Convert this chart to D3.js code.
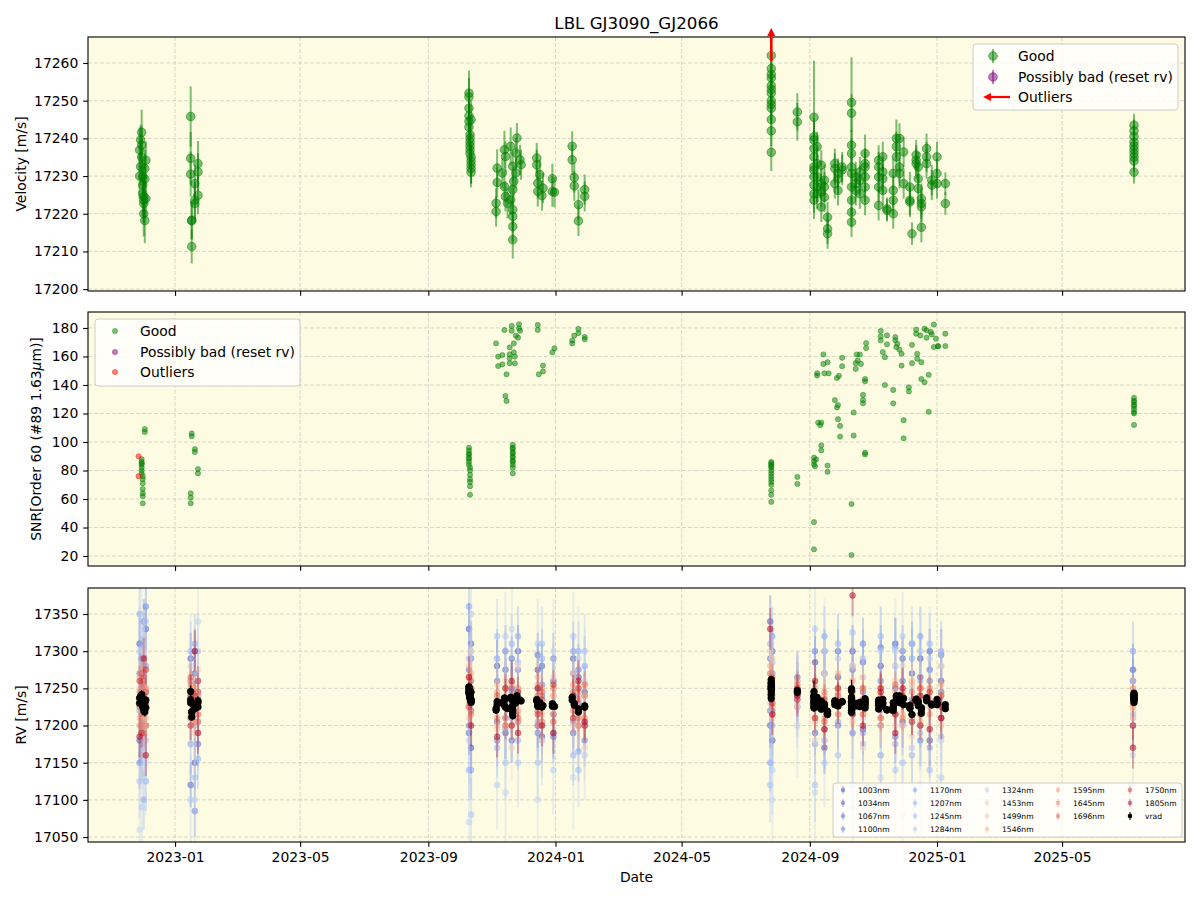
<!DOCTYPE html>
<html>
<head>
<meta charset="utf-8">
<script src="https://cdn.jsdelivr.net/npm/d3@7"></script>
<style>
  body { margin: 0; background: #fff; }
  svg { font-family: "DejaVu Sans", sans-serif; }
</style>
</head>
<body>
<svg id="chart" width="1200" height="900"></svg>
<script>
// ---- data (LBL GJ3090_GJ2066) ----
const dateTicks = ["2023-01-01", "2023-05-01", "2023-09-01", "2024-01-01", "2024-05-01", "2024-09-01", "2025-01-01", "2025-05-01"];
const velTicks = [17200, 17210, 17220, 17230, 17240, 17250, 17260];
const snrTicks = [20, 40, 60, 80, 100, 120, 140, 160, 180];
const rvTicks = [17050, 17100, 17150, 17200, 17250, 17300, 17350];

// velocity per night (m/s) with error bars
const velNightDates = [
  "2022-11-28", "2022-11-29", "2022-11-30", "2022-12-01", "2022-12-02", "2022-12-03", "2022-12-04",
  "2023-01-16", "2023-01-17", "2023-01-20", "2023-01-23",
  "2023-10-10", "2023-10-11", "2023-10-12",
  "2023-11-05", "2023-11-06", "2023-11-11", "2023-11-13", "2023-11-14", "2023-11-16", "2023-11-19",
  "2023-11-21", "2023-11-22", "2023-11-24", "2023-11-25", "2023-11-28", "2023-11-29",
  "2023-12-14", "2023-12-15", "2023-12-17", "2023-12-19", "2023-12-20", "2023-12-29", "2023-12-31",
  "2024-01-17", "2024-01-19", "2024-01-23", "2024-01-29",
  "2024-07-26", "2024-08-20",
  "2024-09-05", "2024-09-08", "2024-09-12", "2024-09-15", "2024-09-18", "2024-09-25", "2024-09-28", "2024-10-02",
  "2024-10-11", "2024-10-15", "2024-10-19", "2024-10-24",
  "2024-11-06", "2024-11-10", "2024-11-14", "2024-11-20", "2024-11-23", "2024-11-26", "2024-11-30",
  "2024-12-06", "2024-12-08", "2024-12-12", "2024-12-14", "2024-12-17", "2024-12-22", "2024-12-27",
  "2025-01-01", "2025-01-09",
  "2025-07-09"
];
const velNightValues = [
  [17236.9, 17230.0], [17232.5, 17239.6], [17241.6, 17238.2, 17235.0], [17229.8, 17227.6, 17225.4],
  [17224.5, 17223.6, 17222.7, 17220.0], [17218.2, 17229.2, 17232.0], [17234.2, 17224.0],
  [17245.8, 17234.7, 17230.5], [17218.3, 17218.1, 17211.3], [17228.0, 17222.7, 17223.6], [17233.3, 17231.1, 17224.9],
  [17252.0, 17251.0, 17248.0, 17246.0, 17244.5, 17243.0], [17241.0, 17240.0, 17239.0, 17238.0, 17237.0, 17236.0],
  [17235.0, 17234.0, 17233.0, 17232.0, 17231.0, 17245.0],
  [17222.8, 17220.6], [17232.1, 17228.3], [17230.8], [17237.0, 17227.2], [17235.2, 17224.6], [17222.8], [17237.9, 17223.7],
  [17232.6, 17226.4, 17221.1, 17219.3, 17216.6, 17213.1], [17228.6], [17236.1, 17230.8], [17240.1], [17234.3], [17233.0],
  [17234.8, 17233.0], [17228.1, 17225.9], [17230.4], [17224.8], [17226.8], [17229.3, 17225.9], [17225.7],
  [17237.9, 17234.3], [17229.6, 17227.4], [17222.4, 17218.1], [17226.4, 17224.6],
  [17262.0, 17258.5, 17257.0, 17256.0, 17254.0, 17253.0, 17252.0, 17250.0, 17249.0, 17248.0, 17245.0, 17242.0, 17236.3],
  [17247.0, 17244.4],
  [17245.6, 17240.4, 17239.6, 17237.3, 17235.1, 17232.4, 17231.6, 17229.8, 17227.6, 17225.3, 17223.6],
  [17237.8, 17233.3, 17229.8, 17227.1, 17225.3], [17232.9, 17228.0, 17225.8, 17221.8], [17228.9, 17227.1, 17224.4],
  [17219.1, 17216.0, 17214.7], [17233.3, 17232.0, 17228.0], [17230.7, 17229.3, 17226.2], [17231.6, 17232.4],
  [17249.5, 17246.7, 17238.2, 17236.0, 17232.4, 17230.7, 17227.1, 17223.6, 17220.4, 17217.8],
  [17229.8, 17228.0, 17226.2], [17231.1, 17228.9, 17225.3], [17236.0, 17233.3, 17232.4, 17229.8, 17227.1, 17223.6],
  [17234.2, 17232.4, 17229.8, 17227.1, 17222.2], [17235.1, 17231.1, 17229.3, 17226.2], [17221.3, 17220.9],
  [17220.0, 17230.7, 17226.2, 17223.6], [17240.0, 17237.8, 17235.1], [17232.4, 17230.7, 17240.0], [17228.0, 17236.4],
  [17227.1, 17223.6, 17223.1], [17214.7], [17235.6, 17234.2, 17233.3], [17232.4, 17229.3, 17226.7],
  [17224.0, 17222.7, 17221.8, 17216.4], [17237.3, 17235.1, 17233.3], [17228.9, 17227.6],
  [17235.1, 17230.7, 17228.0], [17228.0, 17222.7],
  [17243.5, 17242.0, 17240.5, 17239.0, 17238.0, 17237.0, 17236.0, 17235.0, 17234.0, 17231.0]
];
const velNightErrors = [
  [6, 6], [5, 4], [6, 5, 5], [5, 5, 6], [5, 6, 5, 6], [6, 5, 5], [5, 5],
  [8, 7, 6], [5, 5, 4.5], [5, 5, 5], [6, 5, 5],
  [6, 5, 5, 5, 5, 5], [5, 4, 5, 4, 5, 4], [4, 4, 5, 4, 4, 5],
  [4, 4], [5, 4], [4], [5, 4], [4, 4], [4], [5, 4],
  [4, 4, 4, 4, 4, 5], [4], [4, 4], [4], [4], [4],
  [4, 4], [4, 4], [4], [4], [4], [4, 4], [4],
  [4, 4], [4, 4], [4, 4], [4, 4],
  [4, 4, 4, 4, 4, 4, 4, 4, 4, 4, 4, 4, 5],
  [5, 5],
  [15, 5, 5, 5, 5, 5, 5, 5, 5, 5, 5],
  [4, 4, 4, 4, 4], [4, 4, 4, 4], [4, 4, 4],
  [4, 4, 4], [4, 4, 4], [4, 4, 4], [4, 4],
  [12, 5, 4, 4, 4, 4, 4, 4, 4, 4],
  [4, 4, 4], [4, 4, 4], [5, 4, 4, 4, 4, 4],
  [4, 4, 4, 4, 4], [4, 4, 4, 4], [3, 3],
  [4, 4, 4, 4], [5, 4, 4], [4, 4, 4], [4, 4],
  [4, 4, 4], [3], [4, 4, 4], [4, 4, 4],
  [4, 4, 4, 4], [4, 4, 4], [4, 4],
  [4, 4, 4], [3, 3],
  [3, 3, 3, 3, 3, 3, 3, 3, 3, 3]
];
// rejected point above the plotted range (drawn as an arrow)
const outlierDates = ["2024-07-26"];

// SNR in order 60 per night
const snrNightDates = [
  "2022-11-30", "2022-12-01", "2022-12-03", "2023-01-16", "2023-01-17", "2023-01-20", "2023-01-23",
  "2023-10-10", "2023-10-11",
  "2023-11-05", "2023-11-07", "2023-11-11", "2023-11-13", "2023-11-14", "2023-11-15", "2023-11-18", "2023-11-20",
  "2023-11-21", "2023-11-22", "2023-11-23", "2023-11-24", "2023-11-26", "2023-11-27", "2023-11-28",
  "2023-12-15", "2023-12-16", "2023-12-20", "2023-12-29", "2023-12-31",
  "2024-01-17", "2024-01-19", "2024-01-23", "2024-01-29",
  "2024-07-26", "2024-08-20",
  "2024-09-05", "2024-09-06", "2024-09-07", "2024-09-08", "2024-09-09", "2024-09-11", "2024-09-12", "2024-09-14",
  "2024-09-15", "2024-09-18", "2024-09-19", "2024-09-25", "2024-09-27", "2024-09-28", "2024-09-29", "2024-09-30",
  "2024-10-02", "2024-10-11", "2024-10-13", "2024-10-15", "2024-10-16", "2024-10-17", "2024-10-19", "2024-10-20",
  "2024-10-22", "2024-10-24", "2024-10-25",
  "2024-11-08", "2024-11-10", "2024-11-12", "2024-11-14", "2024-11-20", "2024-11-22", "2024-11-23", "2024-11-24",
  "2024-11-26", "2024-11-28", "2024-11-30",
  "2024-12-05", "2024-12-08", "2024-12-12", "2024-12-13", "2024-12-16", "2024-12-17", "2024-12-20", "2024-12-22",
  "2024-12-24", "2024-12-26", "2024-12-27", "2024-12-29", "2024-12-31",
  "2025-01-02", "2025-01-09",
  "2025-07-09"
];
const snrNightValues = [
  [88, 86, 85, 84, 82, 80, 78], [76, 74, 71, 67, 64, 62, 57], [109, 107], [64, 61, 57], [106, 104], [95, 93], [81, 78],
  [96, 94, 92, 91, 89, 88, 86, 84], [82, 80, 77, 74, 72, 69, 63],
  [169.2], [159.9, 153.3], [161.0, 154.5], [178.6], [132.3], [147.5, 128.8], [166.4, 161.5, 158.7, 155.2], [181.4, 178.1],
  [98, 96, 95, 93, 92, 90, 89, 87, 86, 84, 82, 78], [169.2, 162.9], [159.9, 155.2], [174.6], [173.2], [182.6, 179.8], [178.1],
  [178.6, 182.1], [147.5], [153.6, 149.5], [162.9], [165.7],
  [169.1, 171.2], [174.6], [176.4, 179.3], [173.7, 172.1],
  [86, 85, 84, 83, 82, 80, 78, 76, 74, 72, 70, 66, 63, 58], [75.5, 70.6],
  [89, 86.6, 84.2, 43.8, 24.7], [83], [87.8], [148.2, 146.6], [113.6], [111.8], [113.6, 97.6, 94.1], [154.8, 161.4],
  [148.2], [83.5, 79.1, 156], [148.2], [129.4], [124.2, 144.9], [125.9, 116], [146.4], [111.3, 103.8],
  [159.1, 153.2], [56.5, 20.7], [120.7, 104.5], [155.3, 151.3], [161.4], [157.2], [161.4], [154.8],
  [133, 129.4, 127.1], [144.2, 142.6, 91.3, 92.5], [169.4, 165.9],
  [177.9, 174.1, 171.3], [163.1], [159.5, 140], [174.8, 168.5], [136.5, 127.1], [173.6, 171.3], [166.6], [168.9],
  [164.7], [161.9, 153.6], [115.3, 102.6],
  [138.4, 135.5], [168.2, 155.3], [178.8, 176], [161.9, 158.4], [174.8], [156, 144.2], [141.9, 179.5], [178.4, 173.2],
  [147.1, 121.2], [177.2], [175.5], [182.4, 166.6], [172.5],
  [167.1, 167.3], [176, 167.3],
  [131, 129, 128, 126, 125, 123, 121, 120, 112]
];
const snrOutlierDates = ["2022-11-27", "2022-11-27"];
const snrOutlierValues = [90, 76];

// per-band RV (m/s) on a subset of nights
const bandDates = [
  "2022-11-28", "2022-11-30", "2022-12-02", "2022-12-04", "2023-01-16", "2023-01-20", "2023-01-23",
  "2023-10-10", "2023-10-12", "2023-11-06", "2023-11-14", "2023-11-20", "2023-11-26", "2023-12-15", "2023-12-19",
  "2023-12-30", "2024-01-18", "2024-01-23", "2024-01-29", "2024-07-25", "2024-07-27", "2024-08-20",
  "2024-09-06", "2024-09-15", "2024-09-28", "2024-10-12", "2024-10-22", "2024-11-08", "2024-11-22", "2024-11-29",
  "2024-12-08", "2024-12-16", "2024-12-25", "2025-01-05", "2025-07-08"
];
const bandWavelengths = [1003, 1034, 1067, 1100, 1170, 1207, 1245, 1284, 1324, 1453, 1499, 1546, 1595, 1645, 1696, 1750, 1805];
const bandErrors = [35, 30, 30, 35, 40, 40, 50, 60, 70, 45, 30, 25, 20, 18, 18, 20, 28];
const rv1003 = [17310, 17160, 17265, 17200, 17290, 17150, 17245, 17330, 17170, 17280, 17190, 17250, 17300, 17275, 17185, 17260, 17290, 17200, 17245, 17340, 17180, 17250, 17285, 17170, 17265, 17300, 17195, 17280, 17310, 17205, 17270, 17290, 17180, 17260, 17275];
const rv1034 = [17180, 17290, 17215, 17330, 17120, 17270, 17205, 17190, 17310, 17205, 17275, 17180, 17245, 17200, 17280, 17215, 17190, 17265, 17240, 17200, 17300, 17235, 17190, 17270, 17300, 17215, 17285, 17200, 17250, 17290, 17205, 17265, 17300, 17210, 17200];
const rv1067 = [17270, 17200, 17340, 17245, 17210, 17300, 17175, 17275, 17220, 17260, 17210, 17290, 17205, 17295, 17240, 17185, 17270, 17230, 17200, 17290, 17220, 17265, 17240, 17300, 17200, 17275, 17245, 17305, 17215, 17260, 17310, 17200, 17275, 17245, 17260];
const rv1100 = [17150, 17265, 17230, 17360, 17260, 17085, 17240, 17200, 17290, 17180, 17300, 17245, 17275, 17190, 17255, 17290, 17205, 17275, 17180, 17220, 17270, 17240, 17300, 17195, 17250, 17190, 17310, 17260, 17185, 17300, 17235, 17180, 17260, 17295, 17240];
const rv1170 = [17350, 17190, 17100, 17280, 17175, 17310, 17260, 17360, 17140, 17290, 17195, 17230, 17320, 17250, 17200, 17190, 17300, 17165, 17280, 17150, 17320, 17225, 17175, 17320, 17205, 17280, 17190, 17160, 17305, 17200, 17290, 17320, 17170, 17300, 17300];
const rv1207 = [17220, 17305, 17170, 17125, 17300, 17200, 17155, 17140, 17300, 17170, 17250, 17310, 17180, 17205, 17290, 17230, 17160, 17300, 17205, 17310, 17200, 17260, 17230, 17180, 17310, 17220, 17290, 17320, 17175, 17240, 17160, 17260, 17310, 17185, 17215];
const rv1245 = [17125, 17250, 17300, 17180, 17230, 17130, 17300, 17290, 17080, 17320, 17150, 17200, 17285, 17150, 17310, 17260, 17240, 17140, 17300, 17120, 17285, 17250, 17120, 17270, 17160, 17325, 17175, 17220, 17280, 17150, 17310, 17190, 17140, 17280, 17260];
const rv1284 = [17300, 17090, 17200, 17340, 17100, 17260, 17190, 17180, 17350, 17120, 17320, 17210, 17150, 17310, 17180, 17140, 17320, 17240, 17160, 17270, 17140, 17230, 17330, 17150, 17290, 17120, 17265, 17300, 17140, 17320, 17170, 17300, 17225, 17130, 17210];
const rv1324 = [17060, 17330, 17240, 17150, 17280, 17100, 17340, 17070, 17260, 17230, 17110, 17330, 17240, 17100, 17200, 17300, 17130, 17290, 17260, 17230, 17100, 17200, 17110, 17300, 17240, 17090, 17210, 17130, 17300, 17080, 17250, 17120, 17290, 17180, 17160];
const rv1453 = [17250, 17160, 17300, 17200, 17250, 17190, 17275, 17210, 17300, 17195, 17260, 17170, 17280, 17240, 17180, 17265, 17200, 17250, 17170, 17300, 17210, 17255, 17180, 17270, 17215, 17280, 17170, 17250, 17200, 17280, 17185, 17250, 17200, 17280, 17220];
const rv1499 = [17210, 17275, 17190, 17250, 17200, 17245, 17215, 17280, 17230, 17255, 17200, 17240, 17215, 17265, 17205, 17240, 17270, 17200, 17240, 17240, 17290, 17225, 17255, 17195, 17250, 17205, 17265, 17210, 17260, 17200, 17255, 17215, 17245, 17200, 17210];
const rv1546 = [17265, 17200, 17240, 17210, 17260, 17205, 17240, 17230, 17270, 17200, 17250, 17230, 17205, 17255, 17215, 17240, 17210, 17245, 17200, 17280, 17215, 17260, 17205, 17240, 17270, 17220, 17250, 17200, 17245, 17215, 17260, 17205, 17235, 17255, 17245];
const rv1595 = [17200, 17260, 17215, 17250, 17215, 17250, 17205, 17265, 17220, 17245, 17210, 17255, 17220, 17200, 17250, 17215, 17255, 17200, 17240, 17260, 17225, 17240, 17250, 17210, 17245, 17260, 17215, 17240, 17215, 17245, 17210, 17250, 17215, 17240, 17225];
const rv1645 = [17245, 17215, 17260, 17200, 17255, 17205, 17245, 17250, 17215, 17210, 17250, 17200, 17250, 17240, 17205, 17250, 17220, 17235, 17210, 17270, 17240, 17255, 17210, 17245, 17215, 17245, 17215, 17250, 17230, 17210, 17245, 17215, 17250, 17210, 17250];
const rv1696 = [17225, 17270, 17190, 17245, 17265, 17230, 17215, 17240, 17260, 17240, 17200, 17235, 17210, 17220, 17245, 17205, 17245, 17210, 17255, 17240, 17265, 17235, 17225, 17205, 17240, 17230, 17250, 17210, 17255, 17235, 17205, 17250, 17230, 17240, 17230];
const rv1750 = [17260, 17190, 17240, 17275, 17200, 17240, 17260, 17225, 17250, 17225, 17250, 17200, 17245, 17215, 17235, 17255, 17210, 17250, 17200, 17250, 17230, 17250, 17210, 17235, 17250, 17215, 17235, 17250, 17215, 17240, 17230, 17200, 17245, 17225, 17200];
const rv1805 = [17185, 17240, 17290, 17160, 17240, 17300, 17190, 17265, 17200, 17185, 17235, 17260, 17190, 17250, 17200, 17190, 17240, 17260, 17205, 17330, 17215, 17240, 17260, 17195, 17230, 17375, 17200, 17245, 17190, 17250, 17215, 17240, 17195, 17210, 17170];
const bandSeries = [rv1003, rv1034, rv1067, rv1100, rv1170, rv1207, rv1245, rv1284, rv1324, rv1453, rv1499, rv1546, rv1595, rv1645, rv1696, rv1750, rv1805];

// ---- layout ----
const BG = "#fdfbe2";
const GOOD = "#008000", BAD = "#800080", OUT = "#ff0000";
const X0 = 88, X1 = 1185;
const panelBoxes = [[37, 291], [312, 566], [588, 842]];
const TICK = 4.86, FS = 13.9;
const coolwarm = d3.piecewise(d3.interpolateRgb, ["#3b4cc0", "#6282ea", "#8db0fe", "#b8d0f9", "#dddddd", "#f5c4ad", "#f49a7b", "#de604d", "#b40426"]);
const wlExtent = d3.extent(bandWavelengths);
const bandColor = wl => coolwarm((wl - wlExtent[0]) / (wlExtent[1] - wlExtent[0]));

const parse = d3.utcParse("%Y-%m-%d");
const svg = d3.select("#chart");
const defs = svg.append("defs");

const x = d3.scaleUtc()
  .domain([new Date(Date.UTC(2022, 9, 9, 12)), new Date(Date.UTC(2025, 7, 26, 22))])
  .range([X0, X1]);
const tickDates = dateTicks.map(parse);

function flatten(dates, values, errors) {
  const out = [];
  dates.forEach((d, i) => values[i].forEach((v, j) => out.push({ date: parse(d), v, e: errors ? errors[i][j] : 0 })));
  return out;
}

function makePanel(i, domain, ticks) {
  const [top, bottom] = panelBoxes[i];
  const y = d3.scaleLinear().domain(domain).range([bottom, top]);
  const g = svg.append("g");
  g.append("rect").attr("x", X0).attr("y", top).attr("width", X1 - X0).attr("height", bottom - top).attr("fill", BG);

  const grid = g.append("g").attr("stroke", "#b0b0b0").attr("stroke-opacity", 0.6)
    .attr("stroke-width", 0.8).attr("stroke-dasharray", "4,2");
  grid.selectAll(".gx").data(tickDates).join("line")
    .attr("x1", d => x(d)).attr("x2", d => x(d)).attr("y1", top).attr("y2", bottom);
  grid.selectAll(".gy").data(ticks).join("line")
    .attr("x1", X0).attr("x2", X1).attr("y1", d => y(d)).attr("y2", d => y(d));

  defs.append("clipPath").attr("id", "clip" + i)
    .append("rect").attr("x", X0).attr("y", top).attr("width", X1 - X0).attr("height", bottom - top);
  const plot = g.append("g").attr("clip-path", `url(#clip${i})`);

  const finish = () => {
    const ya = g.append("g").attr("transform", `translate(${X0},0)`)
      .call(d3.axisLeft(y).tickValues(ticks).tickSize(TICK).tickPadding(TICK).tickFormat(d3.format("d")));
    const xa = g.append("g").attr("transform", `translate(0,${bottom})`)
      .call(d3.axisBottom(x).tickValues(tickDates).tickSize(TICK).tickPadding(TICK)
        .tickFormat(i === 2 ? d3.utcFormat("%Y-%m") : () => ""));
    [ya, xa].forEach(a => {
      a.select(".domain").remove();
      a.selectAll(".tick line").attr("stroke", "#000").attr("stroke-width", 1.1);
      a.selectAll(".tick text").attr("fill", "#000").style("font-size", FS + "px").style("font-family", "DejaVu Sans");
    });
    g.append("rect").attr("x", X0).attr("y", top).attr("width", X1 - X0).attr("height", bottom - top)
      .attr("fill", "none").attr("stroke", "#000").attr("stroke-width", 1.1);
  };
  return { g, y, plot, top, bottom, finish };
}

function errorbars(layer, y, recs, color, o) {
  const s = layer.append("g");
  s.selectAll("line").data(recs).join("line")
    .attr("x1", d => x(d.date)).attr("x2", d => x(d.date))
    .attr("y1", d => y(d.v - d.e)).attr("y2", d => y(d.v + d.e))
    .attr("stroke", color).attr("stroke-width", o.lw).attr("stroke-opacity", o.lineAlpha);
  s.selectAll("circle").data(recs).join("circle")
    .attr("cx", d => x(d.date)).attr("cy", d => y(d.v)).attr("r", o.r)
    .attr("fill", color).attr("fill-opacity", o.alpha)
    .attr("stroke", color).attr("stroke-opacity", o.alpha).attr("stroke-width", o.edge);
}

function legendBox(x0, y0, w, h) {
  svg.append("rect").attr("x", x0).attr("y", y0).attr("width", w).attr("height", h).attr("rx", 3)
    .attr("fill", "#fff").attr("fill-opacity", 0.8).attr("stroke", "#cccccc").attr("stroke-width", 1);
}
function legendText(tx, ty, label, size) {
  svg.append("text").attr("x", tx).attr("y", ty).attr("dominant-baseline", "central")
    .style("font-size", size + "px").attr("fill", "#000").text(label);
}

// ---- title ----
svg.append("text").attr("x", (X0 + X1) / 2).attr("y", 23).attr("text-anchor", "middle")
  .attr("dominant-baseline", "central").style("font-size", "16.7px").text("LBL GJ3090_GJ2066");

// ---- panel 1: velocity ----
const velRecs = flatten(velNightDates, velNightValues, velNightErrors);
const p1 = makePanel(0, [17199.5, 17266.9], velTicks);
errorbars(p1.plot, p1.y, velRecs, GOOD, { lw: 2, lineAlpha: 0.5, r: 4.3, alpha: 0.5, edge: 1 });
p1.finish();
outlierDates.forEach(d => {
  const ox = x(parse(d));
  svg.append("line").attr("x1", ox).attr("x2", ox).attr("y1", p1.top + 24).attr("y2", p1.top - 2)
    .attr("stroke", OUT).attr("stroke-width", 2.6);
  svg.append("path").attr("d", `M${ox - 4},${p1.top - 1}L${ox + 4},${p1.top - 1}L${ox},${p1.top - 9}Z`).attr("fill", OUT);
});
svg.append("text").attr("transform", `translate(26,${(p1.top + p1.bottom) / 2}) rotate(-90)`)
  .attr("text-anchor", "middle").style("font-size", FS + "px").text("Velocity [m/s]");

legendBox(973, 44, 205, 66);
[[56, GOOD, "Good"], [77, BAD, "Possibly bad (reset rv)"]].forEach(([ly, c, t]) => {
  svg.append("line").attr("x1", 993).attr("x2", 993).attr("y1", ly - 7).attr("y2", ly + 7)
    .attr("stroke", c).attr("stroke-width", 2).attr("stroke-opacity", 0.5);
  svg.append("circle").attr("cx", 993).attr("cy", ly).attr("r", 4.3).attr("fill", c).attr("fill-opacity", 0.5)
    .attr("stroke", c).attr("stroke-opacity", 0.5);
  legendText(1018, ly, t, FS);
});
svg.append("line").attr("x1", 1010).attr("x2", 989).attr("y1", 97).attr("y2", 97).attr("stroke", OUT).attr("stroke-width", 2.2);
svg.append("path").attr("d", "M983,97L991,93L991,101Z").attr("fill", OUT);
legendText(1018, 97, "Outliers", FS);

// ---- panel 2: SNR ----
const snrRecs = flatten(snrNightDates, snrNightValues, null);
const p2 = makePanel(1, [13, 191.2], snrTicks);
p2.plot.append("g").selectAll("circle").data(snrRecs).join("circle")
  .attr("cx", d => x(d.date)).attr("cy", d => p2.y(d.v)).attr("r", 2.6)
  .attr("fill", GOOD).attr("fill-opacity", 0.5).attr("stroke", GOOD).attr("stroke-opacity", 0.5).attr("stroke-width", 0.8);
p2.plot.append("g").selectAll("circle").data(snrOutlierValues).join("circle")
  .attr("cx", (d, i) => x(parse(snrOutlierDates[i]))).attr("cy", d => p2.y(d)).attr("r", 2.6)
  .attr("fill", OUT).attr("fill-opacity", 0.5).attr("stroke", OUT).attr("stroke-opacity", 0.5).attr("stroke-width", 0.8);
p2.finish();
const snrLabel = svg.append("text").attr("transform", `translate(41,${(p2.top + p2.bottom) / 2}) rotate(-90)`)
  .attr("text-anchor", "middle").style("font-size", FS + "px");
snrLabel.append("tspan").text("SNR[Order 60 (#89 1.63");
snrLabel.append("tspan").style("font-style", "italic").text("μ");
snrLabel.append("tspan").text("m)]");

legendBox(95, 319, 205, 67);
[[331, GOOD, "Good"], [352, BAD, "Possibly bad (reset rv)"], [372, OUT, "Outliers"]].forEach(([ly, c, t]) => {
  svg.append("circle").attr("cx", 115).attr("cy", ly).attr("r", 2.6).attr("fill", c).attr("fill-opacity", 0.5)
    .attr("stroke", c).attr("stroke-opacity", 0.5).attr("stroke-width", 0.8);
  legendText(140, ly, t, FS);
});

// ---- panel 3: per-band RV ----
const p3 = makePanel(2, [17043.3, 17385], rvTicks);
const bDates = bandDates.map(parse);
bandSeries.forEach((vals, b) => {
  const recs = vals.map((v, j) => ({ date: bDates[j], v, e: bandErrors[b] }));
  errorbars(p3.plot, p3.y, recs, bandColor(bandWavelengths[b]), { lw: 2, lineAlpha: 0.3, r: 3, alpha: 0.5, edge: 0.6 });
});
errorbars(p3.plot, p3.y, velRecs, "#000", { lw: 1.2, lineAlpha: 1, r: 3.3, alpha: 1, edge: 0.8 });
p3.finish();
svg.append("text").attr("transform", `translate(26,${(p3.top + p3.bottom) / 2}) rotate(-90)`)
  .attr("text-anchor", "middle").style("font-size", FS + "px").text("RV [m/s]");
svg.append("text").attr("x", (X0 + X1) / 2).attr("y", 877).attr("text-anchor", "middle")
  .attr("dominant-baseline", "central").style("font-size", FS + "px").text("Date");

// band legend: 5 columns x 4 rows
legendBox(833, 783, 349, 54);
const legendItems = bandWavelengths.map(wl => ({ label: wl + "nm", color: bandColor(wl), alpha: 0.5 }))
  .concat([{ label: "vrad", color: "#000", alpha: 1 }]);
const colX = [843, 915, 987, 1058, 1130];
const rowY = [790, 803, 816, 829];
const perCol = [4, 4, 4, 3, 3];
let k = 0;
perCol.forEach((n, c) => {
  for (let r = 0; r < n; r++, k++) {
    const it = legendItems[k];
    svg.append("line").attr("x1", colX[c]).attr("x2", colX[c]).attr("y1", rowY[r] - 4).attr("y2", rowY[r] + 4)
      .attr("stroke", it.color).attr("stroke-opacity", it.alpha * 0.7).attr("stroke-width", 1.5);
    svg.append("circle").attr("cx", colX[c]).attr("cy", rowY[r]).attr("r", 2.3)
      .attr("fill", it.color).attr("fill-opacity", it.alpha);
    legendText(colX[c] + 15, rowY[r], it.label, 7.6);
  }
});
</script>
</body>
</html>
